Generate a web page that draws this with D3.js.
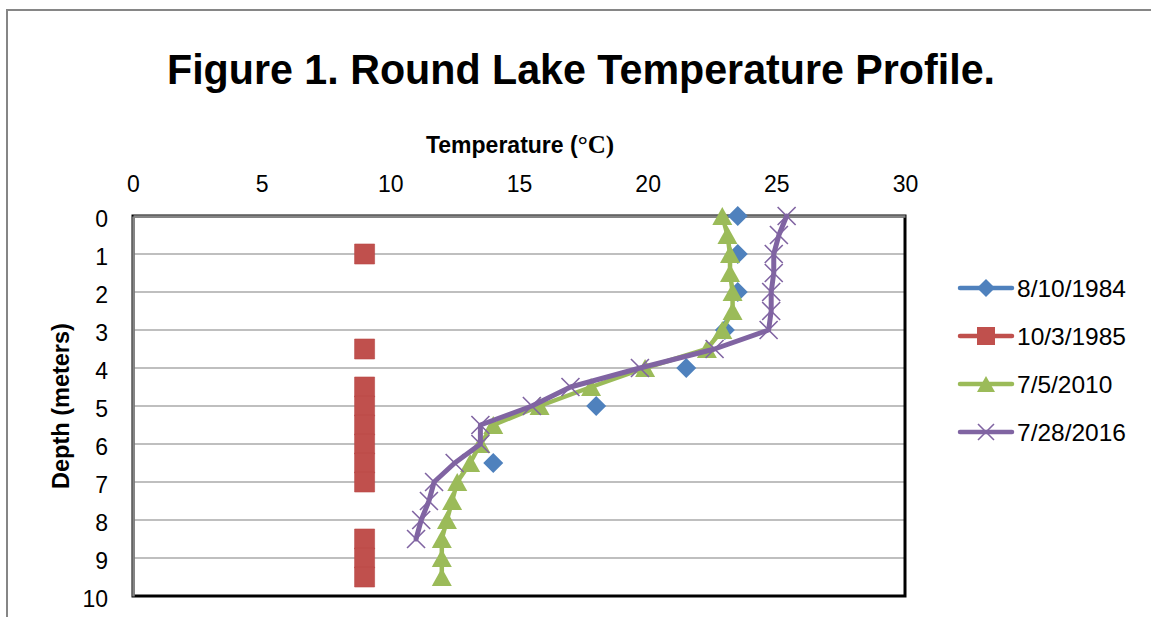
<!DOCTYPE html>
<html>
<head>
<meta charset="utf-8">
<script src="https://cdn.jsdelivr.net/npm/d3@7"></script>
<style>
  html, body { margin: 0; padding: 0; background: #fff; }
  svg { display: block; }
</style>
</head>
<body>
<svg id="chart" width="1151" height="617"></svg>
<script>
// ---------- data ----------
const title = "Figure 1. Round Lake Temperature Profile.";
const xTitle = "Temperature (";
const xTitleUnit = "°C";
const yTitle = "Depth (meters)";
const xTicks = [0, 5, 10, 15, 20, 25, 30];
const yTicks = [0, 1, 2, 3, 4, 5, 6, 7, 8, 9, 10];
const seriesNames = ["8/10/1984", "10/3/1985", "7/5/2010", "7/28/2016"];

const depth1984 = [0, 1, 2, 3, 4, 5, 6.5];
const temp1984  = [23.5, 23.5, 23.5, 23.0, 21.5, 18.0, 14.0];

const depth1985 = [1, 3.5, 4.5, 5, 5.5, 6, 6.5, 7, 8.5, 9, 9.5];
const temp1985  = [9.0, 9.0, 9.0, 9.0, 9.0, 9.0, 9.0, 9.0, 9.0, 9.0, 9.0];

const depth2010 = [0, 0.5, 1, 1.5, 2, 2.5, 3, 3.5, 4, 4.5, 5, 5.5, 6, 6.5, 7, 7.5, 8, 8.5, 9, 9.5];
const temp2010  = [22.9, 23.1, 23.2, 23.2, 23.3, 23.3, 22.9, 22.3, 19.9, 17.8, 15.8, 14.0, 13.5, 13.1, 12.6, 12.4, 12.2, 12.0, 12.0, 12.0];

const depth2016 = [0, 0.5, 1, 1.5, 2, 2.5, 3, 3.5, 4, 4.5, 5, 5.5, 6, 6.5, 7, 7.5, 8, 8.5];
const temp2016  = [25.4, 25.1, 24.9, 24.9, 24.8, 24.8, 24.7, 22.6, 19.7, 17.0, 15.5, 13.5, 13.5, 12.5, 11.7, 11.5, 11.2, 11.0];

// ---------- styles ----------
const colors = ["#4F81BD", "#C0504D", "#9BBB59", "#8064A2"];
const FONT = "'Liberation Sans', Arial, sans-serif";

const svg = d3.select("#chart");
const W = 1151, H = 617;
const plot = { left: 133, top: 216, right: 905, bottom: 596 };

const x = d3.scaleLinear().domain([0, 30]).range([plot.left, plot.right]);
const y = d3.scaleLinear().domain([0, 10]).range([plot.top, plot.bottom]);

// custom symbol types (Excel-like)
const symDiamond = { draw(c, s) { const r = Math.sqrt(s) / 2; c.moveTo(0, -r); c.lineTo(r, 0); c.lineTo(0, r); c.lineTo(-r, 0); c.closePath(); } };
const symSquare = { draw(c, s) { const r = Math.sqrt(s) / 2; c.rect(-r, -r, 2 * r, 2 * r); } };
const symTriangle = { draw(c, s) { const w = Math.sqrt(s), h = w * 0.9; c.moveTo(0, -h / 2); c.lineTo(w / 2, h / 2); c.lineTo(-w / 2, h / 2); c.closePath(); } };
const symX = { draw(c, s) { const r = Math.sqrt(s) / 2; c.moveTo(-r, -r); c.lineTo(r, r); c.moveTo(r, -r); c.lineTo(-r, r); } };

// ---------- outer frame ----------
svg.append("rect").attr("x", 7).attr("y", 10).attr("width", W + 20).attr("height", H + 20)
  .attr("fill", "#fff").attr("stroke", "#868686").attr("stroke-width", 2);

// ---------- title ----------
svg.append("text")
  .attr("x", 167).attr("y", 84)
  .attr("font-family", FONT).attr("font-weight", "bold").attr("font-size", 43)
  .attr("textLength", 828).attr("lengthAdjust", "spacingAndGlyphs")
  .attr("fill", "#000")
  .text(title);

// ---------- gridlines ----------
svg.append("g").selectAll("line")
  .data(yTicks.filter(d => d > 0 && d < 10))
  .join("line")
  .attr("x1", plot.left).attr("x2", plot.right)
  .attr("y1", d => y(d)).attr("y2", d => y(d))
  .attr("stroke", "#BFBFBF").attr("stroke-width", 2);

// plot area border
svg.append("rect")
  .attr("x", plot.left).attr("y", plot.top)
  .attr("width", plot.right - plot.left).attr("height", plot.bottom - plot.top)
  .attr("fill", "none").attr("stroke", "#000").attr("stroke-width", 3);

// ---------- axes ----------
const xAxis = d3.axisTop(x).tickValues(xTicks).tickSize(0).tickPadding(24).tickFormat(d3.format("d"));
const gx = svg.append("g").attr("transform", `translate(0,${plot.top})`).call(xAxis);
gx.select(".domain").attr("stroke", "#868686").attr("stroke-width", 2.5);
gx.selectAll("text").attr("font-family", FONT).attr("font-size", 23).attr("fill", "#000");

const yAxis = d3.axisLeft(y).tickValues(yTicks).tickSize(0).tickPadding(25).tickFormat(d3.format("d"));
const gy = svg.append("g").attr("transform", `translate(${plot.left},0)`).call(yAxis);
gy.select(".domain").attr("stroke", "#868686").attr("stroke-width", 2.5);
gy.selectAll("text").attr("font-family", FONT).attr("font-size", 23).attr("fill", "#000").attr("dy", "0.45em");

// axis titles
const xt = svg.append("text")
  .attr("x", 520).attr("y", 153).attr("text-anchor", "middle")
  .attr("font-family", FONT).attr("font-weight", "bold").attr("font-size", 23).attr("fill", "#000");
xt.append("tspan").text(xTitle);
xt.append("tspan").attr("font-family", "'Liberation Serif', 'Times New Roman', serif").attr("font-size", 25).text(xTitleUnit);
xt.append("tspan").attr("font-family", "'Liberation Serif', 'Times New Roman', serif").attr("font-size", 25).text(")");

svg.append("text")
  .attr("transform", `translate(69,${(plot.top + plot.bottom) / 2}) rotate(-90)`)
  .attr("text-anchor", "middle")
  .attr("font-family", FONT).attr("font-weight", "bold").attr("font-size", 23.5).attr("fill", "#000")
  .text(yTitle);

// ---------- series ----------
const zip = (ds, ts) => ds.map((d, i) => ({ depth: d, temp: ts[i] }));
const s1984 = zip(depth1984, temp1984);
const s1985 = zip(depth1985, temp1985);
const s2010 = zip(depth2010, temp2010);
const s2016 = zip(depth2016, temp2016);

const line = d3.line().x(d => x(d.temp)).y(d => y(d.depth));
const gData = svg.append("g");

// 1984: markers only
gData.append("g").selectAll("path").data(s1984).join("path")
  .attr("transform", d => `translate(${x(d.temp)},${y(d.depth)})`)
  .attr("d", d3.symbol(symDiamond, 400)())
  .attr("fill", colors[0]);

// 1985: markers only
gData.append("g").selectAll("path").data(s1985).join("path")
  .attr("transform", d => `translate(${x(d.temp)},${y(d.depth)})`)
  .attr("d", d3.symbol(symSquare, 400)())
  .attr("fill", colors[1]).attr("stroke", "#B84744").attr("stroke-width", 0.6);

// 2010: line + triangles
gData.append("path").datum(s2010)
  .attr("d", line).attr("fill", "none")
  .attr("stroke", colors[2]).attr("stroke-width", 4.5).attr("stroke-linejoin", "round").attr("stroke-linecap", "round");
gData.append("g").selectAll("path").data(s2010).join("path")
  .attr("transform", d => `translate(${x(d.temp)},${y(d.depth)})`)
  .attr("d", d3.symbol(symTriangle, 400)())
  .attr("fill", colors[2]);

// 2016: line + x markers
gData.append("path").datum(s2016)
  .attr("d", line).attr("fill", "none")
  .attr("stroke", colors[3]).attr("stroke-width", 5).attr("stroke-linejoin", "round").attr("stroke-linecap", "round");
gData.append("g").selectAll("path").data(s2016).join("path")
  .attr("transform", d => `translate(${x(d.temp)},${y(d.depth)})`)
  .attr("d", d3.symbol(symX, 324)())
  .attr("fill", "none").attr("stroke", colors[3]).attr("stroke-width", 1.6);

// ---------- legend ----------
const legendSyms = [symDiamond, symSquare, symTriangle, symX];
const legendY = d3.scalePoint().domain(seriesNames).range([288, 432]);
const lg = svg.append("g");
seriesNames.forEach((name, i) => {
  const cy = legendY(name);
  const g = lg.append("g").attr("transform", `translate(0,${cy})`);
  g.append("line").attr("x1", 960).attr("x2", 1012).attr("y1", 0).attr("y2", 0)
    .attr("stroke", colors[i]).attr("stroke-width", 4.5).attr("stroke-linecap", "round");
  const sz = i === 3 ? 256 : 324;
  const p = g.append("path").attr("transform", "translate(986,0)")
    .attr("d", d3.symbol(legendSyms[i], sz)());
  if (i === 3) p.attr("fill", "none").attr("stroke", colors[i]).attr("stroke-width", 1.6);
  else p.attr("fill", colors[i]);
  g.append("text").attr("x", 1017).attr("y", 0).attr("dy", "0.36em")
    .attr("font-family", FONT).attr("font-size", 24.5).attr("fill", "#000")
    .text(name);
});
</script>
</body>
</html>
